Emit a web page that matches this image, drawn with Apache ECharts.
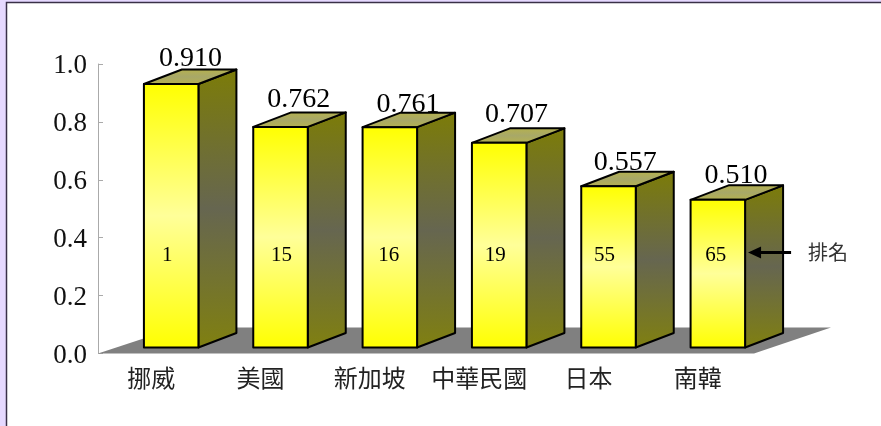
<!DOCTYPE html>
<html><head><meta charset="utf-8">
<style>html,body{margin:0;padding:0;background:#fff}#c{width:881px;height:426px}</style>
<script src="https://cdn.jsdelivr.net/npm/echarts@6/dist/echarts.min.js"></script>
</head><body><div id="c"></div>
<script>
const categories = ['挪威','美國','新加坡','中華民國','日本','南韓'];
const values = [0.910,0.762,0.761,0.707,0.557,0.510];
const ranks = [1,15,16,19,55,65];
const yTicks = {min:0,max:1,interval:0.2};
const rankNote = '排名';

const FONT = '"Liberation Serif","Noto Sans CJK TC",serif';
const DX = 38, DY = 14.5, BASE = 6, SHIFT = 18.5, W = 54.5;
const labelNudgeX = [-8,-9,-9,-10,-10.5,-9];
const labelNudgeY = [2,0,4,-1,3,3];
const rankNudgeX = [-4,1,-1,-4,-4,-2];

const chart = echarts.init(document.getElementById('c'),null,{renderer:'canvas'});
const grad = (stops,x2,y2)=>({type:'linear',x:0,y:0,x2:x2,y2:y2,colorStops:stops.map((c,i)=>({offset:i/(stops.length-1),color:c}))});

function renderBar(p,api){
  const i=api.value(0), v=api.value(1), r=api.value(2);
  const c=api.coord([i,v]), c0=api.coord([i,0]);
  const cx=c[0]+SHIFT, l=cx-W/2, rr=cx+W/2;
  const b=c0[1]-BASE, t=c[1]-BASE;
  const stroke={stroke:'#000',lineWidth:2,lineJoin:'round'};
  return {type:'group',children:[
    {type:'polygon',shape:{points:[[rr,t],[rr+DX,t-DY],[rr+DX,b-DY],[rr,b]]},
      style:Object.assign({fill:grad(['#7c7c08','#666650','#808010'],0,1)},stroke)},
    {type:'polygon',shape:{points:[[l,t],[l+DX,t-DY],[rr+DX,t-DY],[rr,t]]},
      style:Object.assign({fill:grad(['#b6b24c','#a8a868','#b6b24c'],0,1)},stroke)},
    {type:'rect',shape:{x:l,y:t,width:W,height:b-t},
      style:Object.assign({fill:grad(['#ffff00','#ffff99','#ffff00'],0,1)},stroke)},
    {type:'text',style:{text:String(r),x:cx+rankNudgeX[i],y:(c0[1]-98),align:'center',verticalAlign:'middle',font:'21px '+FONT,fill:'#000'}},
    {type:'text',style:{text:v.toFixed(3),x:rr+labelNudgeX[i],y:t-27+labelNudgeY[i],align:'center',verticalAlign:'middle',font:'28px '+FONT,fill:'#000'}}
  ]};
}
function renderFloor(p,api){
  const s=api.size([1,0])[0];
  const a=api.coord([0,0]), x0=a[0]-s/2, y0=a[1], x1=x0+s*categories.length;
  return {type:'polygon',silent:true,shape:{points:[[x0,y0],[x1,y0],[x1+77,y0-26],[x0+79,y0-26]]},style:{fill:'#808080'}};
}
function renderNote(p,api){
  const i=categories.length-1, a=api.coord([i,0]);
  const xR=a[0]+SHIFT+W/2, y=a[1]-101;
  return {type:'group',children:[
    {type:'line',shape:{x1:xR+12,y1:y,x2:xR+46,y2:y},style:{stroke:'#000',lineWidth:3}},
    {type:'polygon',shape:{points:[[xR+3,y],[xR+16,y-6],[xR+16,y+6]]},style:{fill:'#000'}},
    {type:'text',style:{text:rankNote,x:xR+63,y:y+2,align:'left',verticalAlign:'middle',font:'20px '+FONT,fill:'#333'}}
  ]};
}
chart.setOption({
  animation:false,
  backgroundColor:'#fff',
  graphic:[
    {type:'rect',z:-10,shape:{x:0,y:0,width:881,height:426},style:{fill:'#e6d9ff'}},
    {type:'rect',z:-9,shape:{x:6.5,y:2.5,width:880,height:430},style:{fill:'#fff',stroke:'#3a3048',lineWidth:1.5}}
  ],
  grid:{left:98,top:64,width:656,height:289.5,containLabel:false},
  xAxis:{type:'category',data:categories,axisLine:{show:false},axisTick:{show:false},
    axisLabel:{margin:15,fontSize:24,fontFamily:FONT,color:'#222',interval:0,padding:[0,3,0,0]}},
  yAxis:{type:'value',min:yTicks.min,max:yTicks.max,interval:yTicks.interval,splitLine:{show:false},
    axisLine:{show:true,lineStyle:{color:'#aaa',width:1}},
    axisTick:{show:true,inside:true,length:5,lineStyle:{color:'#aaa'}},
    axisLabel:{margin:11,fontSize:27,fontFamily:FONT,color:'#111',verticalAlign:'top',lineHeight:4,formatter:v=>v.toFixed(1)}},
  series:[
    {type:'custom',z:1,clip:false,renderItem:renderFloor,data:[[0,0]],encode:{x:0,y:1},silent:true},
    {type:'custom',z:2,clip:false,renderItem:renderBar,data:values.map((v,i)=>[i,v,ranks[i]]),encode:{x:0,y:1},silent:true},
    {type:'custom',z:3,clip:false,renderItem:renderNote,data:[[0,0]],encode:{x:0,y:1},silent:true}
  ]
});
</script></body></html>
